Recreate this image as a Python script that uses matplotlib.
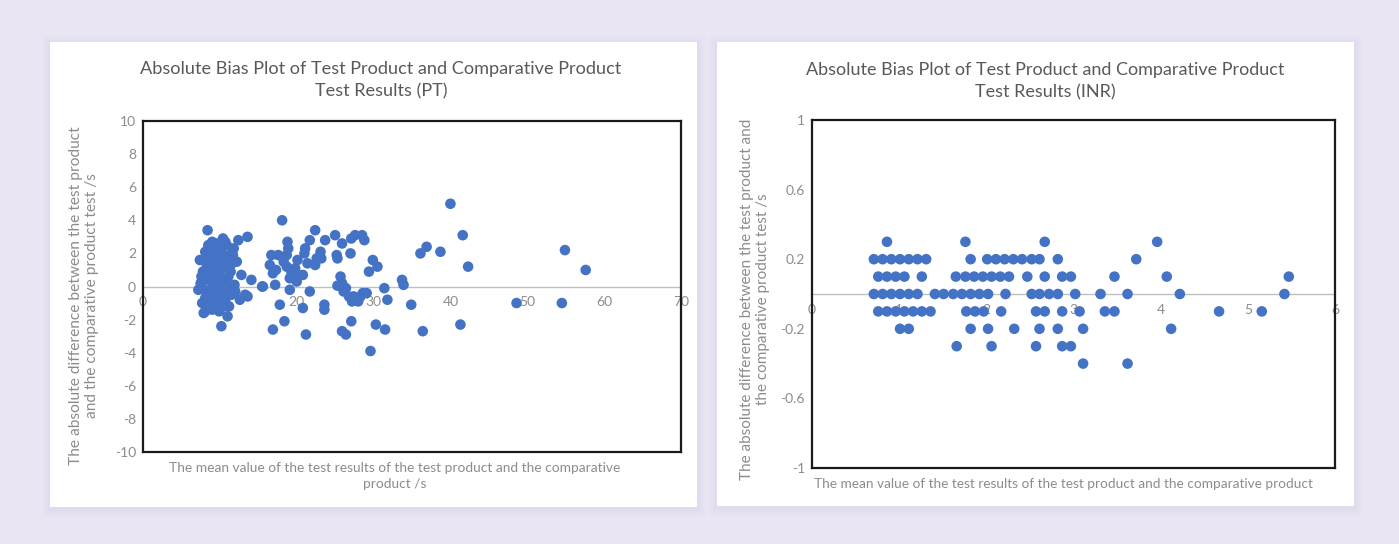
import numpy as np
import matplotlib.pyplot as plt
from matplotlib.patches import FancyBboxPatch
from matplotlib.ticker import FormatStrFormatter, FuncFormatter

plt.rcParams['font.family'] = ['Lato', 'DejaVu Sans']

# PT data: mean value (s) and absolute difference (s)
pt_x = [8.4, 10.4, 12.4, 13.6, 8.5, 10.9, 9.6, 8.1, 11.3, 9.2, 10.0, 7.4, 8.8, 9.5, 10.6, 11.6,
        8.3, 9.1, 10.2, 11.0, 7.8, 8.9, 10.0, 11.1, 12.8, 14.1, 15.5, 7.5, 8.5, 9.8, 10.8, 7.2,
        8.0, 9.0, 10.0, 11.0, 12.0, 13.3, 12.6, 8.1, 9.0, 9.9, 10.7, 8.1, 9.0, 9.9, 11.0, 10.2,
        13.6, 7.9, 10.5, 9.4, 10.4, 8.7, 10.3, 9.4, 11.8, 11.4, 12.2, 10.0, 11.5, 8.6, 9.6, 10.9,
        11.9, 9.0, 10.7, 7.6, 9.3, 10.1, 11.2, 8.2, 9.7, 10.5, 7.7, 9.2, 11.7, 8.9, 10.3,
        18.1, 22.4, 18.8, 21.7, 23.7, 25.0, 25.9, 27.1, 27.6, 28.5, 28.8, 27.0, 25.2, 25.3,
        23.1, 23.2, 22.6, 22.4, 21.1, 21.0, 21.4, 20.1, 19.8, 18.9, 18.7, 18.3, 17.6, 16.7,
        16.5, 16.9, 17.3, 18.7, 19.3, 20.2, 20.8, 19.1, 19.1, 17.2, 15.6, 21.7, 20.0,
        25.7, 25.9, 25.3, 26.4, 26.1, 26.8, 27.2, 28.0, 27.4, 28.3, 29.1, 28.6,
        29.9, 30.5, 29.4, 31.4, 31.8, 17.8, 20.8, 23.6, 23.6, 27.1, 18.4, 16.9, 21.2, 25.9,
        26.4, 30.3, 31.5, 29.6,
        40.0, 41.6, 36.9, 36.1, 38.7, 42.3, 54.9, 57.6, 33.7, 33.9, 34.9, 48.6, 54.5, 41.3, 36.4]
pt_y = [3.4, 2.9, 2.8, 3.0, 2.5, 2.5, 2.6, 2.1, 1.9, 2.2, 2.3, 1.6, 1.8, 1.7, 1.6, 1.4,
        1.3, 1.2, 1.2, 1.1, 0.9, 0.8, 0.7, 0.6, 0.7, 0.4, 0.0, 0.2, 0.4, 0.3, 0.2, -0.2,
        -0.2, -0.1, -0.2, -0.1, -0.3, -0.5, -0.8, -0.7, -0.9, -0.7, -0.9, -1.5, -1.4, -1.5, -1.8, -2.4,
        -0.6, -1.6, -1.2, 0.0, -0.4, 1.0, 2.0, 1.4, 2.3, 0.9, 1.5, -1.0, -0.5, -0.4, 0.9, 1.3,
        0.1, 2.7, 2.7, 0.6, -0.5, 0.5, -1.2, 1.6, 1.0, -0.6, -1.0, 0.5, 1.9, -1.2, 0.0,
        4.0, 3.4, 2.7, 2.8, 2.8, 3.1, 2.6, 2.9, 3.1, 3.1, 2.8, 2.0, 1.9, 1.7,
        2.1, 1.7, 1.7, 1.3, 2.3, 2.0, 1.4, 1.6, 1.1, 2.3, 1.9, 1.5, 1.9, 1.9,
        1.3, 0.8, 1.0, 1.2, 0.9, 0.7, 0.7, 0.5, -0.2, 0.1, 0.0, -0.3, 0.3,
        0.6, 0.2, 0.05, -0.1, -0.3, -0.6, -0.9, -0.9, -0.6, -0.6, -0.4, -0.4,
        1.6, 1.2, 0.9, -0.1, -0.8, -1.1, -1.3, -1.1, -1.4, -2.1, -2.1, -2.6, -2.9, -2.7,
        -2.9, -2.3, -2.6, -3.9,
        5.0, 3.1, 2.4, 2.0, 2.1, 1.2, 2.2, 1.0, 0.4, 0.1, -1.1, -1.0, -1.0, -2.3, -2.7]

# INR data
inr_x = [0.86, 1.76, 2.67, 3.96,
         0.71, 0.81, 0.91, 1.01, 1.11, 1.21, 1.31, 1.82, 2.01, 2.11, 2.21, 2.31, 2.41, 2.52, 2.61,
         2.82, 3.72,
         0.76, 0.86, 0.96, 1.06, 1.26, 1.65, 1.76, 1.86, 1.96, 2.06, 2.16, 2.26, 2.47, 2.67, 2.87,
         2.97, 3.47, 4.07, 5.47,
         0.71, 0.81, 0.91, 1.01, 1.11, 1.21, 1.41, 1.51, 1.62, 1.72, 1.82, 1.92, 2.02, 2.22, 2.52,
         2.61, 2.72, 2.82, 3.02, 3.31, 3.62, 4.22, 5.42,
         0.76, 0.86, 0.96, 1.06, 1.16, 1.26, 1.36, 1.77, 1.87, 1.97, 2.17, 2.57, 2.67, 2.87, 3.07,
         3.36, 3.47, 4.67, 5.16,
         1.01, 1.11, 1.82, 2.02, 2.32, 2.61, 2.82, 3.11, 4.12,
         1.66, 2.06, 2.57, 2.87, 2.97,
         3.11, 3.62]
inr_y = [0.3] * 4 + [0.2] * 17 + [0.1] * 19 + [0.0] * 23 + [-0.1] * 19 + [-0.2] * 9 + [-0.3] * 5 + [-0.4] * 2

pt_xticks = [0, 10, 20, 30, 40, 50, 60, 70]
pt_yticks = [-10, -8, -6, -4, -2, 0, 2, 4, 6, 8, 10]
inr_xticks = [0, 1, 2, 3, 4, 5, 6]
inr_yticks = [-1, -0.6, -0.2, 0.2, 0.6, 1]

W, H = 1399, 544
BG = '#E9E5F3'
DOT = '#4472C4'
TXT = '#595959'
TICK = '#8C8C8C'

fig = plt.figure(figsize=(W / 100, H / 100), dpi=100)
fig.patch.set_facecolor(BG)


# white card with soft shadow, in pixel units (drawn under the axes)
def card(x0, y0, x1, y1):
    for i, a in enumerate([0.03, 0.03, 0.04, 0.05]):
        g = 8 - 2 * i
        sh = FancyBboxPatch(((x0 - g) / W, 1 - (y1 + g + 2) / H), (x1 - x0 + 2 * g) / W,
                            (y1 - y0 + 2 * g) / H, boxstyle='square,pad=0',
                            transform=fig.transFigure, fc='#B7A9D6', ec='none', alpha=a,
                            zorder=-3)
        fig.patches.append(sh)
    fig.patches.append(FancyBboxPatch((x0 / W, 1 - y1 / H), (x1 - x0) / W, (y1 - y0) / H,
                                      boxstyle='square,pad=0', transform=fig.transFigure,
                                      fc='white', ec='none', zorder=-2))


card(50, 42, 697, 507)
card(717, 42, 1354, 506)


def panel(rect, xs, ys, xlim, ylim, xticks, yticks, yfmt):
    ax = fig.add_axes(rect)
    ax.set_facecolor('white')
    ax.scatter(xs, ys, s=58, color=DOT, edgecolors='none', zorder=3)
    ax.set_xlim(*xlim)
    ax.set_ylim(*ylim)
    ax.set_xticks([])
    ax.set_yticks(yticks)
    ax.yaxis.set_major_formatter(yfmt)
    ax.tick_params(axis='y', length=0, pad=5, labelsize=10, labelcolor=TICK)
    for sp in ax.spines.values():
        sp.set_color('#1a1a1a')
        sp.set_linewidth(1.6)
    # x axis crosses at y = 0 with labels under the line
    sec = ax.secondary_xaxis(0.5)
    sec.set_alignment('bottom')
    sec.set_xticks(xticks)
    sec.tick_params(length=0, pad=7, labelsize=10, labelcolor=TICK)
    sec.spines['bottom'].set_color('#BFBFBF')
    sec.spines['bottom'].set_linewidth(1.0)
    return ax


ax1 = panel([143 / W, 1 - 452 / H, 538 / W, 331 / H], pt_x, pt_y, (0, 70), (-10, 10),
            pt_xticks, pt_yticks, FormatStrFormatter('%d'))
ax2 = panel([812 / W, 1 - 468 / H, 523 / W, 348 / H], inr_x, inr_y, (0, 6), (-1, 1),
            inr_xticks, inr_yticks, FuncFormatter(lambda v, p: '%g' % round(v, 1)))

# titles
fig.text(381 / W, 1 - 80 / H, 'Absolute Bias Plot of Test Product and Comparative Product\nTest Results (PT)',
         ha='center', va='center', fontsize=13.1, color=TXT, linespacing=1.5)
fig.text(1045 / W, 1 - 81 / H, 'Absolute Bias Plot of Test Product and Comparative Product\nTest Results (INR)',
         ha='center', va='center', fontsize=13.0, color=TXT, linespacing=1.5)

# axis titles
fig.text(84 / W, 1 - 296 / H, 'The absolute difference between the test product\nand the comparative product test /s',
         ha='center', va='center', rotation=90, fontsize=11.2, color=TICK, linespacing=1.15)
fig.text(755 / W, 1 - 299 / H, 'The absolute difference between the test product and\nthe comparative product test /s',
         ha='center', va='center', rotation=90, fontsize=11.0, color=TICK, linespacing=1.15)
fig.text(395 / W, 1 - 476 / H, 'The mean value of the test results of the test product and the comparative\nproduct /s',
         ha='center', va='center', fontsize=9.9, color=TICK, linespacing=1.3)
fig.text(1063 / W, 1 - 484 / H, 'The mean value of the test results of the test product and the comparative product',
         ha='center', va='center', fontsize=9.8, color=TICK)

fig.savefig('out.png', dpi=100, facecolor=fig.get_facecolor())
